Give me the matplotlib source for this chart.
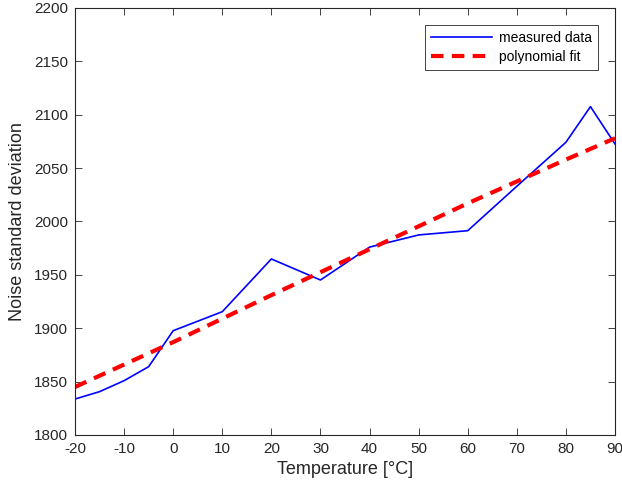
import matplotlib
matplotlib.use('Agg')
import matplotlib.pyplot as plt

plt.rcParams['font.family'] = ['Liberation Sans', 'DejaVu Sans']
plt.rcParams['axes.unicode_minus'] = False

temperature = [-20, -15, -10, -5, 0, 10, 20, 30, 40, 50, 60, 70, 80, 85, 90]
noise_std = [1833.7, 1840.6, 1850.9, 1864.0, 1897.7, 1915.5, 1964.9, 1945.2,
             1976.0, 1987.4, 1991.4, 2033.0, 2074.2, 2107.6, 2072.6]

fit_temperature = [-20, 0, 20, 40, 60, 80, 90]
fit_values = [1845, 1887, 1931, 1974, 2017, 2058, 2078]

xticks = list(range(-20, 91, 10))
yticks = list(range(1800, 2201, 50))

fig = plt.figure(figsize=(6.22, 4.91), dpi=100)
ax = fig.add_axes([75 / 622, 56 / 491, 540 / 622, 427 / 491])

ax.plot(temperature, noise_std, color='#0000ff', linewidth=1.2, label='measured data')
ax.plot(fit_temperature, fit_values, color='#ff0000', linewidth=3, linestyle=(0, (3, 2)),
        label='polynomial fit')

ax.set_xlim(-20, 90)
ax.set_ylim(1800, 2200)
ax.set_xticks(xticks)
ax.set_yticks(yticks)
ax.tick_params(direction='in', top=True, right=True, length=5, width=0.6,
               labelsize=11, colors='#262626', pad=5)
for s in ax.spines.values():
    s.set_color('#262626')
    s.set_linewidth(0.8)

ax.set_xlabel('Temperature [°C]', fontsize=13, color='#262626', labelpad=4)
ax.set_ylabel('Noise standard deviation', fontsize=13, color='#262626', labelpad=6)

leg = ax.legend(loc='upper right', bbox_to_anchor=(0.969, 0.96), borderaxespad=0,
                fontsize=10, fancybox=False, framealpha=1, edgecolor='#262626',
                handlelength=4.4, borderpad=0.45, labelspacing=0.35, handletextpad=0.5)
leg.get_frame().set_linewidth(0.6)

fig.savefig('out.png', dpi=100)
